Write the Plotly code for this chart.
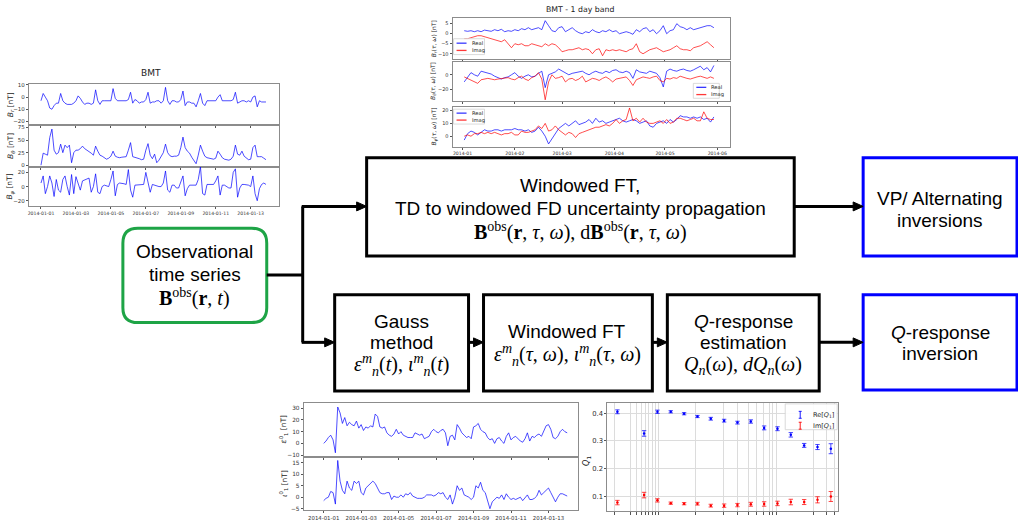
import plotly.graph_objects as go
import pandas as pd

W, H = 1018, 521

# ---------------- data ----------------
# BMT observatory, 3-hourly samples, 2014-01-01 .. 2014-01-13
bmt_start = "2014-01-01"
bmt_br = [-3, 3, 0, -3, -9, -10, -7, -5,
          -5, 3, -3, -5, -6, -6, -6, -5,
          -3, 1, -1, -4, -6, -5, -5, -6,
          -5, 6, -3, -6, -3, -3, -3, -3,
          -3, 7, -1, -3, -3, -3, -3, -3,
          -2, 4, -5, -2, -3, -5, -4, -4,
          -2, 4, -5, -4, -4, -3, -3, -5,
          -3, 8, -3, -6, -3, -3, -4, -4,
          -2, 5, -7, -4, -4, -5, -5, -8,
          -3, 3, -5, -7, -3, -3, -3, -3,
          -3, 0, 2, -3, -3, -3, -3, -3,
          -2, 4, -5, -4, -3, -3, -4, -3,
          -4, 0, 1, -8, -3, -4, -4, -4]
bmt_bt = [0, 24, 22, 20, 55, 72, 30, 22,
          25, 42, 25, 40, 35, 40, 5, 25,
          30, 30, 33, 38, 33, 30, 28, 24,
          20, 38, 28, 20, 18, 15, 12, 14,
          18, 28, 18, 16, 15, 16, 17, 17,
          30, 45, 17, 16, 15, 13, 11, 12,
          30, 43, 20, 13, 22, 5, 10, 18,
          25, 42, 25, 19, 17, 18, 18, 20,
          35, 56, 35, 28, 24, 16, 10, 3,
          20, 40, 28, 18, 15, 14, 13, 12,
          14, 28, 22, 15, 12, 11, 10, 12,
          18, 40, 22, 20, 28, 18, 14, 11,
          12, 35, 40, 17, 17, 17, 14, 11]
bmt_bp = [5, 15, -10, 0, 15, 5, -14, 10,
          -5, -8, 10, 15, 0, -12, 17, -10,
          14, 5, -5, 8, 9, 10, 12, -8,
          0, 18, -8, -10, 0, 2, 1, 0,
          10, 22, -13, 3, 5, 5, 4, 3,
          24, -5, -15, 2, 2, 2, 2, 3,
          20, 5, -8, 3, 2, 0, 0, 0,
          5, 22, -5, -8, 2, 2, -2, -2,
          8, 15, -13, -3, 2, 2, 2, 2,
          10, 28, -10, -12, 3, 3, 3, 3,
          8, 15, -12, 2, 2, 0, -2, -2,
          20, 25, -15, -2, 3, 3, 3, 2,
          0, 15, -10, -20, -3, 3, 5, 3]
bmt_xticks = ["2014-01-01", "2014-01-03", "2014-01-05", "2014-01-07",
              "2014-01-09", "2014-01-11", "2014-01-13"]

# BMT 1-day band, every second day from 2014-01-02
band_start = "2014-01-02"
band_r_re = [1.5, 1.2, 1.5, 1.0, 1.5, 1.0, 1.8, 1.5, 1.2, 2.0,
             1.5, 2.2, 1.0, 1.5, 1.2, 2.0, 1.5, 2.5, 2.0, 3.0,
             2.0, 2.5, 3.0, 2.0, 6.5, 4.0, 1.5, 1.0, 3.0, 3.5,
             1.0, 2.0, 3.0, 1.5, 0.5, 0.0, 1.0, 0.5, 2.0, 1.0,
             0.5, 1.5, 1.0, 2.0, 1.0, 1.5, 0.0, 0.5, 1.0, 0.5,
             -0.3, 2.0, 1.0, 2.5, 3.0, 1.0, 2.0, 0.0, 1.5, 4.0,
             0.0, 1.5, 2.0, 5.0, 3.5, 3.0, 2.0, 3.0, 2.0, 2.5,
             3.0, 3.5, 4.0, 4.0, 3.0]
band_r_im = [-2.5, -2.5, -2.0, -1.5, -1.0, -1.0, -1.5, -2.0, -2.5, -3.0,
             -3.5, -4.0, -3.0, -5.0, -7.0, -5.0, -5.5, -5.0, -6.0, -6.0,
             -5.0, -5.5, -6.0, -6.5, -5.0, -6.0, -5.0, -5.5, -7.0, -9.0,
             -8.5, -8.0, -8.0, -7.5, -7.0, -8.0, -7.5, -8.0, -10.0, -8.0,
             -7.5, -11.0, -8.0, -8.5, -8.0, -8.5, -8.0, -8.5, -9.0, -8.0,
             -7.5, -5.0, -9.0, -10.0, -9.0, -8.0, -7.5, -7.0, -8.0, -9.0,
             -8.5, -8.0, -7.0, -6.0, -7.5, -8.0, -8.0, -8.5, -7.0, -6.5,
             -6.0, -5.0, -4.0, -5.5, -7.0]
band_t_re = [-10, -3, 3, 0, -2, 5, 4, 3, 1, -2,
             -4, -6, -4, -3, 0, 3, -2, -5, -2, 0,
             -3, -2, 2, 5, -18, 0, 2, 4, 8, 5,
             2, 0, 2, 3, 4, 5, 2, 0, 3, 5,
             3, 2, 5, 3, 6, 7, 4, 3, 5, 3,
             -5, 7, 4, 3, 2, 5, 4, 2, -4, -17,
             5, 8, 6, 5, 7, 8, 6, 5, 7, 9,
             12, 7, 10, 4, 13]
band_t_im = [-3, -5, -7, -10, -12, -7, -6, -5, -6, -7,
             -6, -5, -4, -4, -6, -7, -4, -2, -6, -8,
             -4, -2, 3, -6, -35, -10, 0, -5, -4, -2,
             -10, -6, -5, -8, -6, -2, -10, -7, -5, -6,
             -8, -5, -3, -6, -10, -6, -5, -4, -3, -8,
             -15, -7, -5, -3, -4, -5, -3, -2, -8, -10,
             -5, -6, -4, -5, -2, -4, -5, -6, -4, -3,
             -2, -4, -5, -3, -5]
band_p_re = [-3, 2, 4, 3, 1, 3, 5, 4, 4, 5,
             5, 4, 5, 5, 5, 6, 5, 5, 4, 5,
             3, 4, 7, 4, 0, -6, -2, 3, 6, 8,
             10, 8, 10, 12, 9, 10, 11, 13, 10, 14,
             11, 12, 10, 11, 12, 13, 14, 12, 11, 12,
             13, 12, 10, 11, 12, 8, 7, 10, 11, 12,
             10, 13, 11, 13, 16, 15, 15, 14, 15, 14,
             15, 13, 14, 11, 15]
band_p_im = [0, 1, 0, 2, 2, 3, 2, 3, 2, 3,
             2, 1, 2, 2, 3, 1, 1, 4, 3, 3,
             4, 5, 8, 6, 10, 4, 5, 8, 5, 3,
             1, 3, 2, -1, 2, 3, 4, 5, 6, 7,
             7, 8, 9, 8, 10, 13, 10, 12, 13, 22,
             12, 14, 11, 14, 11, 10, 10, 11, 12, 10,
             13, 10, 11, 14, 14, 13, 12, 13, 14, 12,
             12, 19, 14, 13, 13]
band_xticks = ["2014-01-01", "2014-02-01", "2014-03-01", "2014-04-01",
               "2014-05-01", "2014-06-01"]
band_xlabels = ["2014-01", "2014-02", "2014-03", "2014-04", "2014-05", "2014-06"]

# Gauss coefficients, 3-hourly from 2014-01-01
gauss_start = "2014-01-01"
gauss_eps = [0, 2, 5, 7, 3, -8, 31, 26, 17, 22,
             15, 18, 16, 15, 19, 13, 16, 11, 14, 13,
             15, 14, 25, 23, 14, 13, 14, 9, 7, 6,
             8, 12, 8, 10, 7, 6, 5, 5, 5, 9,
             8, 7, 8, 4, 5, 6, 10, 12, 10, 9,
             11, 12, 9, -2, 6, 7, 3, 16, 13, 9,
             7, 5, 6, 4, 14, 15, 17, 12, 10, 9,
             5, 3, 4, 0, 4, 5, 2, 0, 6, 9,
             3, 5, 6, 4, 2, 1, 4, 9, 2, 6,
             5, 7, 8, 6, 11, 15, 16, 12, 5, 4,
             6, 10, 12, 10, 9]
gauss_iota = [-1.5, -0.5, 0, 2.5, 2, -3, 16, 7, 3, 1.5,
              7, 4, 3, 7, 6, 7, 2, 1, 4, 5,
              6, 7, 6, 4, 2, 1.5, 1.5, 2, 2, -1,
              0.5, 0, 0, 1, 0, 1.5, 1, 2, 0.5, 0,
              -0.5, -0.5, -0.5, 0, 1, 1, 1, 0.5, 1, 2,
              1.5, 2, 0, -1, 1, -3, 0, 5, 3, 4,
              1, 0.5, 0, -1, 0, 5, 4, 6.5, 3, 2,
              -1, -5, -2, -1, 0, -0.5, 1, -1, 1.5, 0,
              -1, -0.5, -1, -0.5, 0, -1.5, 0, 1, -1, -1,
              -0.5, 0.5, 3, 1, 2, 3, 4, 2, 0, -2,
              0, 1.5, 1.5, 1, 0.5]

# Q-response (period index on a log-like axis)
q_pos = [0, 2, 3, 4, 5, 6, 7, 8, 9, 10, 11, 12, 13, 14, 15, 16]
q_re = [0.405, 0.327, 0.405, 0.405, 0.398, 0.388, 0.380, 0.373, 0.366, 0.370,
        0.347, 0.344, 0.322, 0.284, 0.278, 0.272]
q_re_err = [0.007, 0.010, 0.006, 0.004, 0.004, 0.004, 0.005, 0.005, 0.005, 0.006,
            0.007, 0.007, 0.008, 0.007, 0.009, 0.018]
q_im = [0.078, 0.105, 0.086, 0.076, 0.074, 0.074, 0.067, 0.067, 0.069, 0.072,
        0.073, 0.075, 0.080, 0.080, 0.088, 0.100]
q_im_err = [0.008, 0.010, 0.006, 0.004, 0.004, 0.005, 0.005, 0.006, 0.006, 0.007,
            0.008, 0.008, 0.010, 0.009, 0.011, 0.018]
q_grid = [-0.2, 0.95, 1.45, 1.83, 2.1, 2.35, 2.6, 2.83, 3.1, 5.83, 7.95, 9.0,
          9.83, 10.45, 10.95, 11.4, 11.65, 11.95, 14.7, 15.7, 16.3]

# ---------------- helpers ----------------
SANS = "Liberation Sans"
SERIF = "Liberation Serif"
MPL = "DejaVu Sans"
BLUE = "rgba(0,0,255,0.78)"
RED = "rgba(255,0,0,0.78)"
SPINE = "#8c8c8c"

bmt_time = pd.date_range(bmt_start, periods=len(bmt_br), freq="3h")
band_time = pd.date_range(band_start, periods=len(band_r_re), freq="2D")
gauss_time = pd.date_range(gauss_start, periods=len(gauss_eps), freq="3h")

fig = go.Figure()
layout = {}
shapes = []
annotations = []


def X(px):
    return px / W


def Y(py):
    return 1 - py / H


def ref(i, k):
    return k if i == 1 else f"{k}{i}"


def axes(i, x0, x1, yt, yb, xrange, yrange, xkw=None, ykw=None):
    base = dict(showline=True, mirror=True, linecolor=SPINE, linewidth=1,
                showgrid=False, zeroline=False, ticks="outside", ticklen=2,
                tickwidth=0.8, tickcolor="#555")
    xa = dict(base, domain=[X(x0), X(x1)], anchor=ref(i, "y"), range=xrange,
              tickfont=dict(family=MPL, size=5, color="#333"))
    ya = dict(base, domain=[Y(yb), Y(yt)], anchor=ref(i, "x"), range=yrange,
              tickfont=dict(family=MPL, size=5.5, color="#333"))
    xa.update(xkw or {})
    ya.update(ykw or {})
    layout["xaxis" if i == 1 else f"xaxis{i}"] = xa
    layout["yaxis" if i == 1 else f"yaxis{i}"] = ya


def line_trace(i, x, y, color, width=0.9):
    fig.add_trace(go.Scatter(x=x, y=y, mode="lines", line=dict(color=color, width=width),
                             xaxis=ref(i, "x"), yaxis=ref(i, "y"),
                             showlegend=False, hoverinfo="skip"))


def txt(x, y, s, size, family=SANS, color="black", angle=0, xanchor="center"):
    annotations.append(dict(x=X(x), y=Y(y), xref="paper", yref="paper", text=s,
                            showarrow=False, textangle=angle, xanchor=xanchor,
                            yanchor="middle", font=dict(size=size, family=family, color=color)))


def rect(x0, y0, x1, y1, color, width, fill="rgba(0,0,0,0)"):
    shapes.append(dict(type="rect", xref="paper", yref="paper", x0=X(x0), x1=X(x1),
                       y0=Y(y1), y1=Y(y0), line=dict(color=color, width=width),
                       fillcolor=fill, layer="above"))


def seg(x0, y0, x1, y1, color="black", width=3):
    shapes.append(dict(type="line", xref="paper", yref="paper", x0=X(x0), x1=X(x1),
                       y0=Y(y0), y1=Y(y1), line=dict(color=color, width=width)))


def arrow(x0, x1, y):
    seg(x0, y, x1 - 8, y)
    p = f"M {X(x1)},{Y(y)} L {X(x1 - 10)},{Y(y - 4.5)} L {X(x1 - 10)},{Y(y + 4.5)} Z"
    shapes.append(dict(type="path", xref="paper", yref="paper", path=p,
                       fillcolor="black", line=dict(color="black", width=1)))


def rounded(x0, y0, x1, y1, r, color, width):
    rx, ry = r / W, r / H
    a, b, c, d = X(x0), X(x1), Y(y0), Y(y1)
    p = (f"M {a + rx},{c} L {b - rx},{c} Q {b},{c} {b},{c - ry} L {b},{d + ry} "
         f"Q {b},{d} {b - rx},{d} L {a + rx},{d} Q {a},{d} {a},{d + ry} "
         f"L {a},{c - ry} Q {a},{c} {a + rx},{c} Z")
    shapes.append(dict(type="path", xref="paper", yref="paper", path=p,
                       line=dict(color=color, width=width)))


# ---------------- BMT (top left) ----------------
bmt_xr = ["2013-12-31 07:30", "2014-01-14 14:30"]
bx = dict(tickvals=bmt_xticks, ticktext=bmt_xticks, showticklabels=False)
axes(1, 28, 278, 83, 124, bmt_xr, [-23, 10.5], bx, dict(dtick=10))
axes(2, 28, 278, 124, 166, bmt_xr, [-3, 80], bx, dict(dtick=25))
axes(3, 28, 278, 166, 206, bmt_xr, [-28, 28], dict(bx, showticklabels=True), dict(dtick=20))
layout["xaxis3"]["tickfont"] = dict(family=MPL, size=4.6, color="#333")
line_trace(1, bmt_time, bmt_br, BLUE)
line_trace(2, bmt_time, bmt_bt, BLUE)
line_trace(3, bmt_time, bmt_bp, BLUE)
txt(150, 72, "BMT", 9, MPL, "#222")
txt(10, 103, "<i>B<sub>r</sub></i> [nT]", 7.5, MPL, "#222", -90)
txt(10, 145, "<i>B<sub>θ</sub></i> [nT]", 7.5, MPL, "#222", -90)
txt(10, 186, "<i>B<sub>φ</sub></i> [nT]", 7.5, MPL, "#222", -90)

# ---------------- BMT 1 day band (top middle) ----------------
band_xr = ["2013-12-26 02:00", "2014-06-08 17:00"]
nx = dict(tickvals=band_xticks, ticktext=band_xlabels, showticklabels=False)
axes(4, 452, 730, 16, 57, band_xr, [-12.4, 7.9], nx, dict(dtick=5))
axes(5, 452, 730, 60, 100, band_xr, [-37, 18.5], nx, dict(dtick=20))
axes(6, 452, 730, 106, 146, band_xr, [-8.3, 22.6], dict(nx, showticklabels=True), dict(dtick=10))
for i in (4, 5, 6):
    layout[f"yaxis{i}"]["tickfont"] = dict(family=MPL, size=5, color="#333")
layout["xaxis6"]["tickfont"] = dict(family=MPL, size=4.6, color="#333")
line_trace(4, band_time, band_r_re, BLUE)
line_trace(4, band_time, band_r_im, RED)
line_trace(5, band_time, band_t_re, BLUE)
line_trace(5, band_time, band_t_im, RED)
line_trace(6, band_time, band_p_re, BLUE)
line_trace(6, band_time, band_p_im, RED)
txt(580, 8, "BMT - 1 day band", 7.8, MPL, "#222")
txt(433, 37, "<i>B<sub>r</sub></i>(<i>τ</i>, <i>ω</i>) [nT]", 6, MPL, "#222", -90)
txt(433, 80, "<i>B<sub>θ</sub></i>(<i>τ</i>, <i>ω</i>) [nT]", 6, MPL, "#222", -90)
txt(433, 126, "<i>B<sub>φ</sub></i>(<i>τ</i>, <i>ω</i>) [nT]", 6, MPL, "#222", -90)


def mini_legend(x0, y0, x1, y1, entries, glyph_x0, glyph_x1, text_x, size=5.2):
    shapes.append(dict(type="rect", xref="paper", yref="paper", x0=X(x0), x1=X(x1),
                       y0=Y(y1), y1=Y(y0), line=dict(color="#d0d0d0", width=0.8),
                       fillcolor="rgba(255,255,255,0.85)"))
    for (yy, color, label) in entries:
        seg(glyph_x0, yy, glyph_x1, yy, color, 1.3)
        txt(text_x, yy, label, size, MPL, "#222", 0, "left")


mini_legend(453, 37, 484, 53, [(41.5, BLUE, "Real"), (48.8, RED, "Imag")], 456, 466, 469)
mini_legend(693, 82, 719, 97, [(86, BLUE, "Real"), (93.3, RED, "Imag")], 696, 706, 709)
mini_legend(453, 108, 484, 123, [(112, BLUE, "Real"), (119, RED, "Imag")], 456, 466, 469)

# ---------------- Gauss coefficients (bottom middle) ----------------
g_xr = ["2013-12-30 22:24", "2014-01-14 14:24"]
gx = dict(tickvals=bmt_xticks, ticktext=bmt_xticks, showticklabels=False)
axes(7, 303, 578, 404, 459, g_xr, [-12, 34.5], gx, dict(dtick=10))
axes(8, 303, 578, 459, 512, g_xr, [-5.6, 17.3], dict(gx, showticklabels=True), dict(dtick=5))
for i in (7, 8):
    layout[f"yaxis{i}"]["tickfont"] = dict(family=MPL, size=5.8, color="#333")
layout["xaxis8"]["tickfont"] = dict(family=MPL, size=5.4, color="#333")
line_trace(7, gauss_time, gauss_eps, BLUE)
line_trace(8, gauss_time, gauss_iota, BLUE)
txt(283, 431, "<i>ε</i><sup>0</sup><sub>1</sub> [nT]", 7.5, MPL, "#222", -90)
txt(283, 485, "<i>ι</i><sup>0</sup><sub>1</sub> [nT]", 7.5, MPL, "#222", -90)

# ---------------- Q response (bottom right) ----------------
axes(9, 607, 838, 404, 513, [-0.75, 16.55], [0.0475, 0.437],
     dict(tickvals=q_grid, showticklabels=False, showgrid=True, gridcolor="#dcdcdc",
          gridwidth=0.8, ticklen=3),
     dict(tickvals=[0.1, 0.2, 0.3, 0.4], ticktext=["0.1", "0.2", "0.3", "0.4"],
          showgrid=True, gridcolor="#dcdcdc", gridwidth=0.8,
          tickfont=dict(family=MPL, size=6.8, color="#333")))
fig.add_trace(go.Scatter(x=q_pos, y=q_re, mode="markers", xaxis="x9", yaxis="y9",
                         marker=dict(color="blue", size=2.5),
                         error_y=dict(type="data", array=q_re_err, color="rgba(0,0,255,0.8)",
                                      thickness=0.9, width=2.2),
                         showlegend=False, hoverinfo="skip"))
fig.add_trace(go.Scatter(x=q_pos, y=q_im, mode="markers", xaxis="x9", yaxis="y9",
                         marker=dict(color="red", size=2.5),
                         error_y=dict(type="data", array=q_im_err, color="rgba(255,0,0,0.8)",
                                      thickness=0.9, width=2.2),
                         showlegend=False, hoverinfo="skip"))
txt(587, 462, "<i>Q</i><sub>1</sub>", 8, MPL, "#222", -90)
# legend
shapes.append(dict(type="rect", xref="paper", yref="paper", x0=X(785), x1=X(837),
                   y0=Y(431), y1=Y(405), line=dict(color="#d0d0d0", width=0.8),
                   fillcolor="rgba(255,255,255,0.9)"))
for (yy, color, label) in [(416, "blue", "Re[<i>Q</i><sub>1</sub>]"),
                           (427, "red", "Im[<i>Q</i><sub>1</sub>]")]:
    seg(800, yy - 3.5, 800, yy + 3.5, color, 0.9)
    seg(798.5, yy - 3.5, 801.5, yy - 3.5, color, 0.9)
    seg(798.5, yy + 3.5, 801.5, yy + 3.5, color, 0.9)
    txt(811, yy, label, 6.5, MPL, "#222", 0, "left")

# ---------------- flow chart ----------------
rounded(122, 228, 266, 323, 15, "#1ea446", 3)
rect(366, 157, 794, 256, "black", 3)
rect(863, 157, 1017, 256, "#0000ff", 3)
rect(334, 295, 468, 392, "black", 3)
rect(483, 295, 652, 392, "black", 3)
rect(667, 295, 819, 392, "black", 3)
rect(863, 295, 1017, 391, "#0000ff", 3)

seg(266, 275, 302, 275)
seg(302, 206, 302, 343)
arrow(301, 366, 206)
arrow(301, 334, 343)
arrow(468, 483, 343)
arrow(652, 667, 343)
arrow(819, 863, 343)
arrow(794, 863, 206)

FS = 19
MS = 20
txt(194, 251, "Observational", FS)
txt(194, 275, "time series", FS)
txt(194, 298, "<b>B</b><sup>obs</sup>(<b>r</b>, <i>t</i>)", MS, SERIF)

txt(580, 185, "Windowed FT,", FS)
txt(580, 208, "TD to windowed FD uncertainty propagation", FS)
txt(580, 231, "<b>B</b><sup>obs</sup>(<b>r</b>, <i>τ</i>, <i>ω</i>), d<b>B</b><sup>obs</sup>(<b>r</b>, <i>τ</i>, <i>ω</i>)", MS, SERIF)

txt(940, 198, "VP/ Alternating", FS)
txt(940, 220, "inversions", FS)

txt(401, 322, "Gauss", FS)
txt(401, 343, "method", FS)
txt(401, 366, "<i>ε</i><sup><i>m</i></sup><sub><i>n</i></sub>(<i>t</i>), <i>ι</i><sup><i>m</i></sup><sub><i>n</i></sub>(<i>t</i>)", MS, SERIF)

txt(567, 332, "Windowed FT", FS)
txt(567, 356, "<i>ε</i><sup><i>m</i></sup><sub><i>n</i></sub>(<i>τ</i>, <i>ω</i>), <i>ι</i><sup><i>m</i></sup><sub><i>n</i></sub>(<i>τ</i>, <i>ω</i>)", MS, SERIF)

txt(743, 322, "<i>Q</i>-response", FS)
txt(743, 343, "estimation", FS)
txt(743, 366, "<i>Q<sub>n</sub></i>(<i>ω</i>), <i>dQ<sub>n</sub></i>(<i>ω</i>)", MS, SERIF)

txt(940, 333, "<i>Q</i>-response", FS)
txt(940, 354, "inversion", FS)

fig.update_layout(width=W, height=H, margin=dict(l=0, r=0, t=0, b=0),
                  paper_bgcolor="white", plot_bgcolor="white",
                  shapes=shapes, annotations=annotations, showlegend=False, **layout)
fig.write_html("out.html")
